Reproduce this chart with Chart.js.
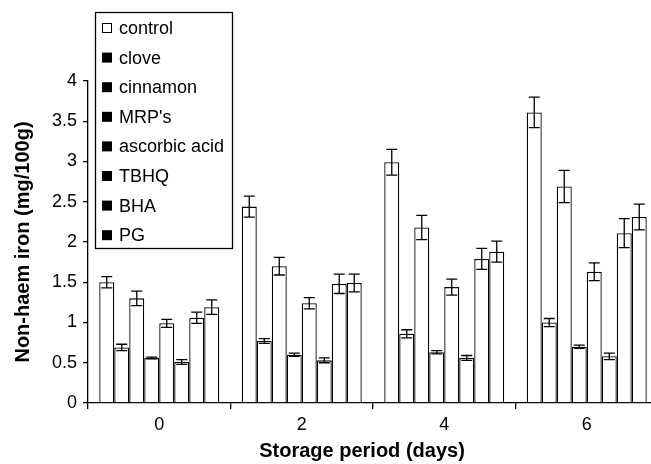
<!DOCTYPE html>
<html>
<head>
<meta charset="utf-8">
<script src="https://cdn.jsdelivr.net/npm/chart.js@4/dist/chart.umd.min.js"></script>
<style>
  html, body { margin: 0; padding: 0; background: #fff; overflow: hidden; }
  #wrap { width: 660px; height: 464px; position: relative; }
</style>
</head>
<body>
<div id="wrap"><canvas id="chart"></canvas></div>
<script>
const days = ["0", "2", "4", "6"];
const seriesNames = ["control", "clove", "cinnamon", "MRP's", "ascorbic acid", "TBHQ", "BHA", "PG"];

const control = [1.50, 2.44, 2.99, 3.61];
const clove = [0.69, 0.77, 0.86, 1.00];
const cinnamon = [1.30, 1.70, 2.18, 2.69];
const mrps = [0.56, 0.60, 0.63, 0.70];
const ascorbic = [0.99, 1.24, 1.44, 1.63];
const tbhq = [0.51, 0.53, 0.56, 0.58];
const bha = [1.06, 1.48, 1.79, 2.11];
const pg = [1.19, 1.49, 1.88, 2.31];

const controlErr = [0.07, 0.13, 0.16, 0.19];
const cloveErr = [0.04, 0.03, 0.05, 0.05];
const cinnamonErr = [0.09, 0.11, 0.15, 0.20];
const mrpsErr = [0.01, 0.02, 0.02, 0.02];
const ascorbicErr = [0.05, 0.07, 0.10, 0.11];
const tbhqErr = [0.03, 0.03, 0.03, 0.04];
const bhaErr = [0.07, 0.12, 0.13, 0.18];
const pgErr = [0.09, 0.11, 0.13, 0.16];

const yTicks = [0, 0.5, 1, 1.5, 2, 2.5, 3, 3.5, 4];

const values = [control, clove, cinnamon, mrps, ascorbic, tbhq, bha, pg];
const errors = [controlErr, cloveErr, cinnamonErr, mrpsErr, ascorbicErr, tbhqErr, bhaErr, pgErr];
const FONT = "'Liberation Sans', Arial, Helvetica, sans-serif";

// error bars drawn on top of the bars
const errorBars = {
  id: "errorBars",
  afterDatasetsDraw(chart) {
    const ctx = chart.ctx;
    const y = chart.scales.y;
    ctx.save();
    ctx.strokeStyle = "#000";
    ctx.lineWidth = 1.3;
    chart.data.datasets.forEach((ds, i) => {
      const meta = chart.getDatasetMeta(i);
      meta.data.forEach((bar, j) => {
        const v = ds.data[j], e = errors[i][j];
        const top = y.getPixelForValue(v + e);
        const bot = y.getPixelForValue(v - e);
        const x = bar.x, cap = 5.5;
        ctx.beginPath();
        ctx.moveTo(x, top); ctx.lineTo(x, bot);
        ctx.moveTo(x - cap, top); ctx.lineTo(x + cap, top);
        ctx.moveTo(x - cap, bot); ctx.lineTo(x + cap, bot);
        ctx.stroke();
      });
    });
    ctx.restore();
  }
};

// boxed legend inside the plot, and the x axis title
const boxLegend = {
  id: "boxLegend",
  afterDraw(chart) {
    const ctx = chart.ctx;
    ctx.save();
    ctx.fillStyle = "#fff";
    ctx.fillRect(95, 12, 137, 236);
    ctx.strokeStyle = "#000";
    ctx.lineWidth = 1.3;
    ctx.strokeRect(95.5, 12.5, 137, 236);
    ctx.font = "18px " + FONT;
    ctx.textBaseline = "middle";
    seriesNames.forEach((name, i) => {
      const cy = 28 + i * 29.6;
      if (i === 0) {
        ctx.fillStyle = "#fff";
        ctx.fillRect(102, cy - 5, 10, 10);
        ctx.lineWidth = 1;
        ctx.strokeRect(102.5, cy - 4.5, 9, 9);
      } else {
        ctx.fillStyle = "#000";
        ctx.fillRect(102, cy - 5, 10, 10);
      }
      ctx.fillStyle = "#000";
      ctx.fillText(name, 119, cy + 1);
    });
    ctx.font = "bold 20px " + FONT;
    ctx.textAlign = "center";
    ctx.textBaseline = "middle";
    ctx.fillText("Storage period (days)", 362, 451);
    ctx.restore();
  }
};

new Chart(document.getElementById("chart"), {
  type: "bar",
  data: {
    labels: days,
    datasets: seriesNames.map((name, i) => ({
      label: name,
      data: values[i],
      backgroundColor: "#fff",
      borderColor: "#000",
      borderWidth: 1.3,
      categoryPercentage: 0.842,
      barPercentage: 1.0
    }))
  },
  options: {
    responsive: true,
    maintainAspectRatio: false,
    animation: false,
    layout: { padding: { top: 81, left: 0, right: 2, bottom: 0 } },
    plugins: { legend: { display: false }, tooltip: { enabled: false } },
    scales: {
      x: {
        offset: true,
        border: { color: "#000", width: 1.3 },
        grid: { offset: true, drawOnChartArea: false, drawTicks: true, tickLength: 6, color: "#000", lineWidth: 1.3 },
        ticks: { color: "#000", font: { family: FONT, size: 18 }, padding: 5 },
        afterFit(s) { s.height = 61; }
      },
      y: {
        min: 0,
        max: 4,
        afterBuildTicks(s) { s.ticks = yTicks.map(v => ({ value: v })); },
        border: { color: "#000", width: 1.3 },
        grid: { drawOnChartArea: false, drawTicks: true, tickLength: 5, color: "#000", lineWidth: 1.3 },
        ticks: { color: "#000", font: { family: FONT, size: 18 }, padding: 6, callback: v => String(v) },
        title: {
          display: true,
          text: "Non-haem iron (mg/100g)",
          color: "#000",
          font: { family: FONT, size: 20, weight: "bold" },
          padding: { top: 11, bottom: 0 }
        },
        afterFit(s) { s.width = 88; }
      }
    }
  },
  plugins: [errorBars, boxLegend]
});
</script>
</body>
</html>
